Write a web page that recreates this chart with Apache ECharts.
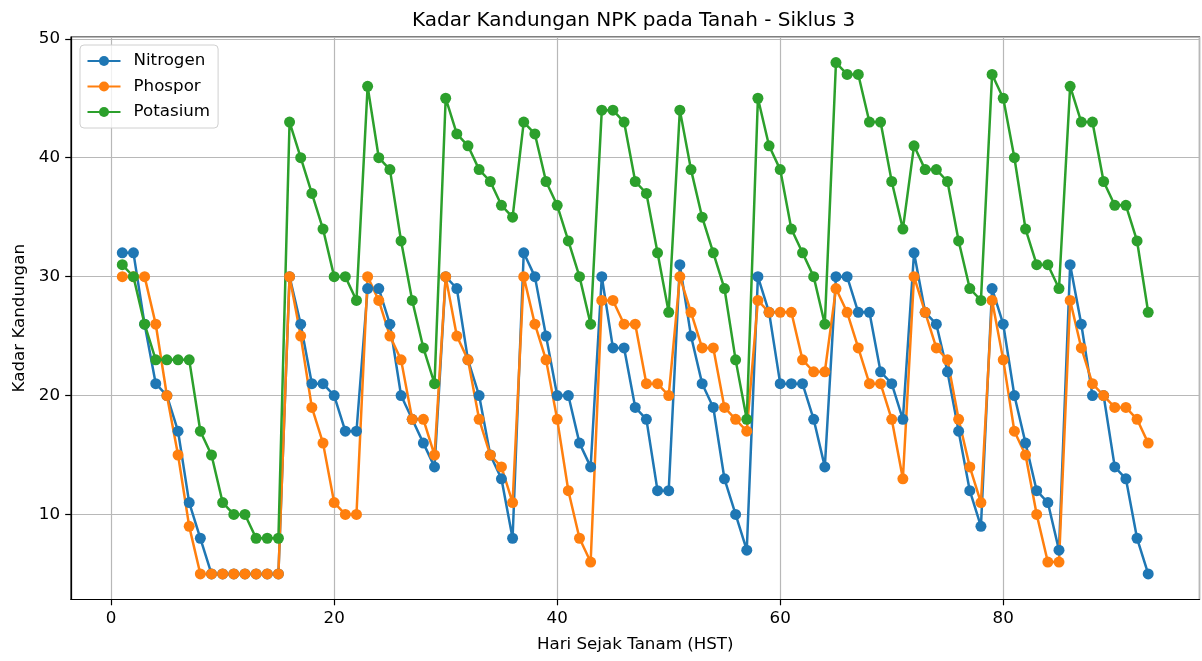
<!DOCTYPE html>
<html>
<head>
<meta charset="utf-8">
<script src="https://cdn.jsdelivr.net/npm/echarts@6/dist/echarts.min.js"></script>
<style>
html,body{margin:0;padding:0;background:#fff;}
#chart{width:1202px;height:661px;}
</style>
</head>
<body>
<div id="chart"></div>
<script>
const days = [1,2,3,4,5,6,7,8,9,10,11,12,13,14,15,16,17,18,19,20,21,22,23,24,25,26,27,28,29,30,31,32,33,34,35,36,37,38,39,40,41,42,43,44,45,46,47,48,49,50,51,52,53,54,55,56,57,58,59,60,61,62,63,64,65,66,67,68,69,70,71,72,73,74,75,76,77,78,79,80,81,82,83,84,85,86,87,88,89,90,91,92,93];
const nitrogen = [32,32,26,21,20,17,11,8,5,5,5,5,5,5,5,
  30,26,21,21,20,17,17,29,29,26,20,18,16,14,
  30,29,23,20,15,13,8,
  32,30,25,20,20,16,14,
  30,24,24,19,18,12,12,
  31,25,21,19,13,10,7,
  30,27,21,21,21,18,14,
  30,30,27,27,22,21,18,
  32,27,26,22,17,12,9,
  29,26,20,16,12,11,7,
  31,26,20,20,14,13,8,5];
const phospor = [30,30,30,26,20,15,9,5,5,5,5,5,5,5,5,
  30,25,19,16,11,10,10,30,28,25,23,18,18,15,
  30,25,23,18,15,14,11,
  30,26,23,18,12,8,6,
  28,28,26,26,21,21,20,
  30,27,24,24,19,18,17,
  28,27,27,27,23,22,22,
  29,27,24,21,21,18,13,
  30,27,24,23,18,14,11,
  28,23,17,15,10,6,6,
  28,24,21,20,19,19,18,16];
const potasium = [31,30,26,23,23,23,23,17,15,11,10,10,8,8,8,
  43,40,37,34,30,30,28,46,40,39,33,28,24,21,
  45,42,41,39,38,36,35,
  43,42,38,36,33,30,26,
  44,44,43,38,37,32,27,
  44,39,35,32,29,23,18,
  45,41,39,34,32,30,26,
  48,47,47,43,43,38,34,
  41,39,39,38,33,29,28,
  47,45,40,34,31,31,29,
  46,43,43,38,36,36,33,27];
const seriesNames = ['Nitrogen','Phospor','Potasium'];
const seriesColors = ['#1f77b4','#ff7f0e','#2ca02c'];
const xTicks = [0,20,40,60,80];
const yTicks = [10,20,30,40,50];

const FONT = 'DejaVu Sans';
const FS = 16.7;
function pairs(vals){ return days.map((d,i)=>[d, vals[i]]); }
const allVals = [nitrogen, phospor, potasium];

const chart = echarts.init(document.getElementById('chart'), null, {renderer:'canvas'});
chart.setOption({
  animation: false,
  backgroundColor: '#ffffff',
  title: {
    text: 'Kadar Kandungan NPK pada Tanah - Siklus 3',
    left: 412, top: 11, padding: 0,
    textStyle: {fontFamily: FONT, fontSize: 20, fontWeight: 'normal', color: '#000'}
  },
  legend: {
    orient: 'vertical', left: 80, top: 45,
    padding: [7.5, 8, 7.5, 6.5], itemGap: 8.5,
    itemWidth: 33, itemHeight: 12.5,
    backgroundColor: 'rgba(255,255,255,0.8)', borderColor: '#d0d0d0', borderWidth: 1, borderRadius: 4,
    textStyle: {fontFamily: FONT, fontSize: FS, color: '#000', lineHeight: 17, padding: [0,0,0,8]},
    data: seriesNames
  },
  grid: {left: 71, right: 2.5, top: 37, bottom: 61.5, show: true, borderColor: '#000', borderWidth: 1.2, containLabel: false},
  xAxis: {
    type: 'value', min: -3.6, max: 97.6, splitNumber: 5,
    name: 'Hari Sejak Tanam (HST)', nameLocation: 'middle', nameGap: 37,
    nameTextStyle: {fontFamily: FONT, fontSize: FS, color: '#000'},
    axisLine: {show: true, onZero: false, lineStyle: {color: '#000', width: 1.2}},
    axisTick: {show: true, length: 5.8, lineStyle: {color: '#000', width: 1.2}},
    axisLabel: {fontFamily: FONT, fontSize: FS, color: '#000', margin: 11, showMinLabel: false, showMaxLabel: false,
      formatter: v => xTicks.indexOf(Math.round(v*1000)/1000) >= 0 ? String(v) : ''},
    splitLine: {show: true, lineStyle: {color: '#b8b8b8', width: 1.2}}
  },
  yAxis: {
    type: 'value', min: 2.85, max: 50.15, splitNumber: 5,
    name: 'Kadar Kandungan', nameLocation: 'middle', nameGap: 42,
    nameTextStyle: {fontFamily: FONT, fontSize: FS, color: '#000'},
    axisLine: {show: true, onZero: false, lineStyle: {color: '#000', width: 1.2}},
    axisTick: {show: true, length: 5.8, lineStyle: {color: '#000', width: 1.2}},
    axisLabel: {fontFamily: FONT, fontSize: FS, color: '#000', margin: 11, showMinLabel: false, showMaxLabel: false,
      formatter: v => yTicks.indexOf(Math.round(v*1000)/1000) >= 0 ? String(v) : ''},
    splitLine: {show: true, lineStyle: {color: '#b8b8b8', width: 1.2}}
  },
  series: seriesNames.map((n, k) => ({
    name: n, type: 'line', data: pairs(allVals[k]),
    symbol: 'circle', symbolSize: 11, showAllSymbol: true,
    itemStyle: {color: seriesColors[k]},
    lineStyle: {color: seriesColors[k], width: 2.5},
    emphasis: {disabled: true}
  }))
});
</script>
</body>
</html>
